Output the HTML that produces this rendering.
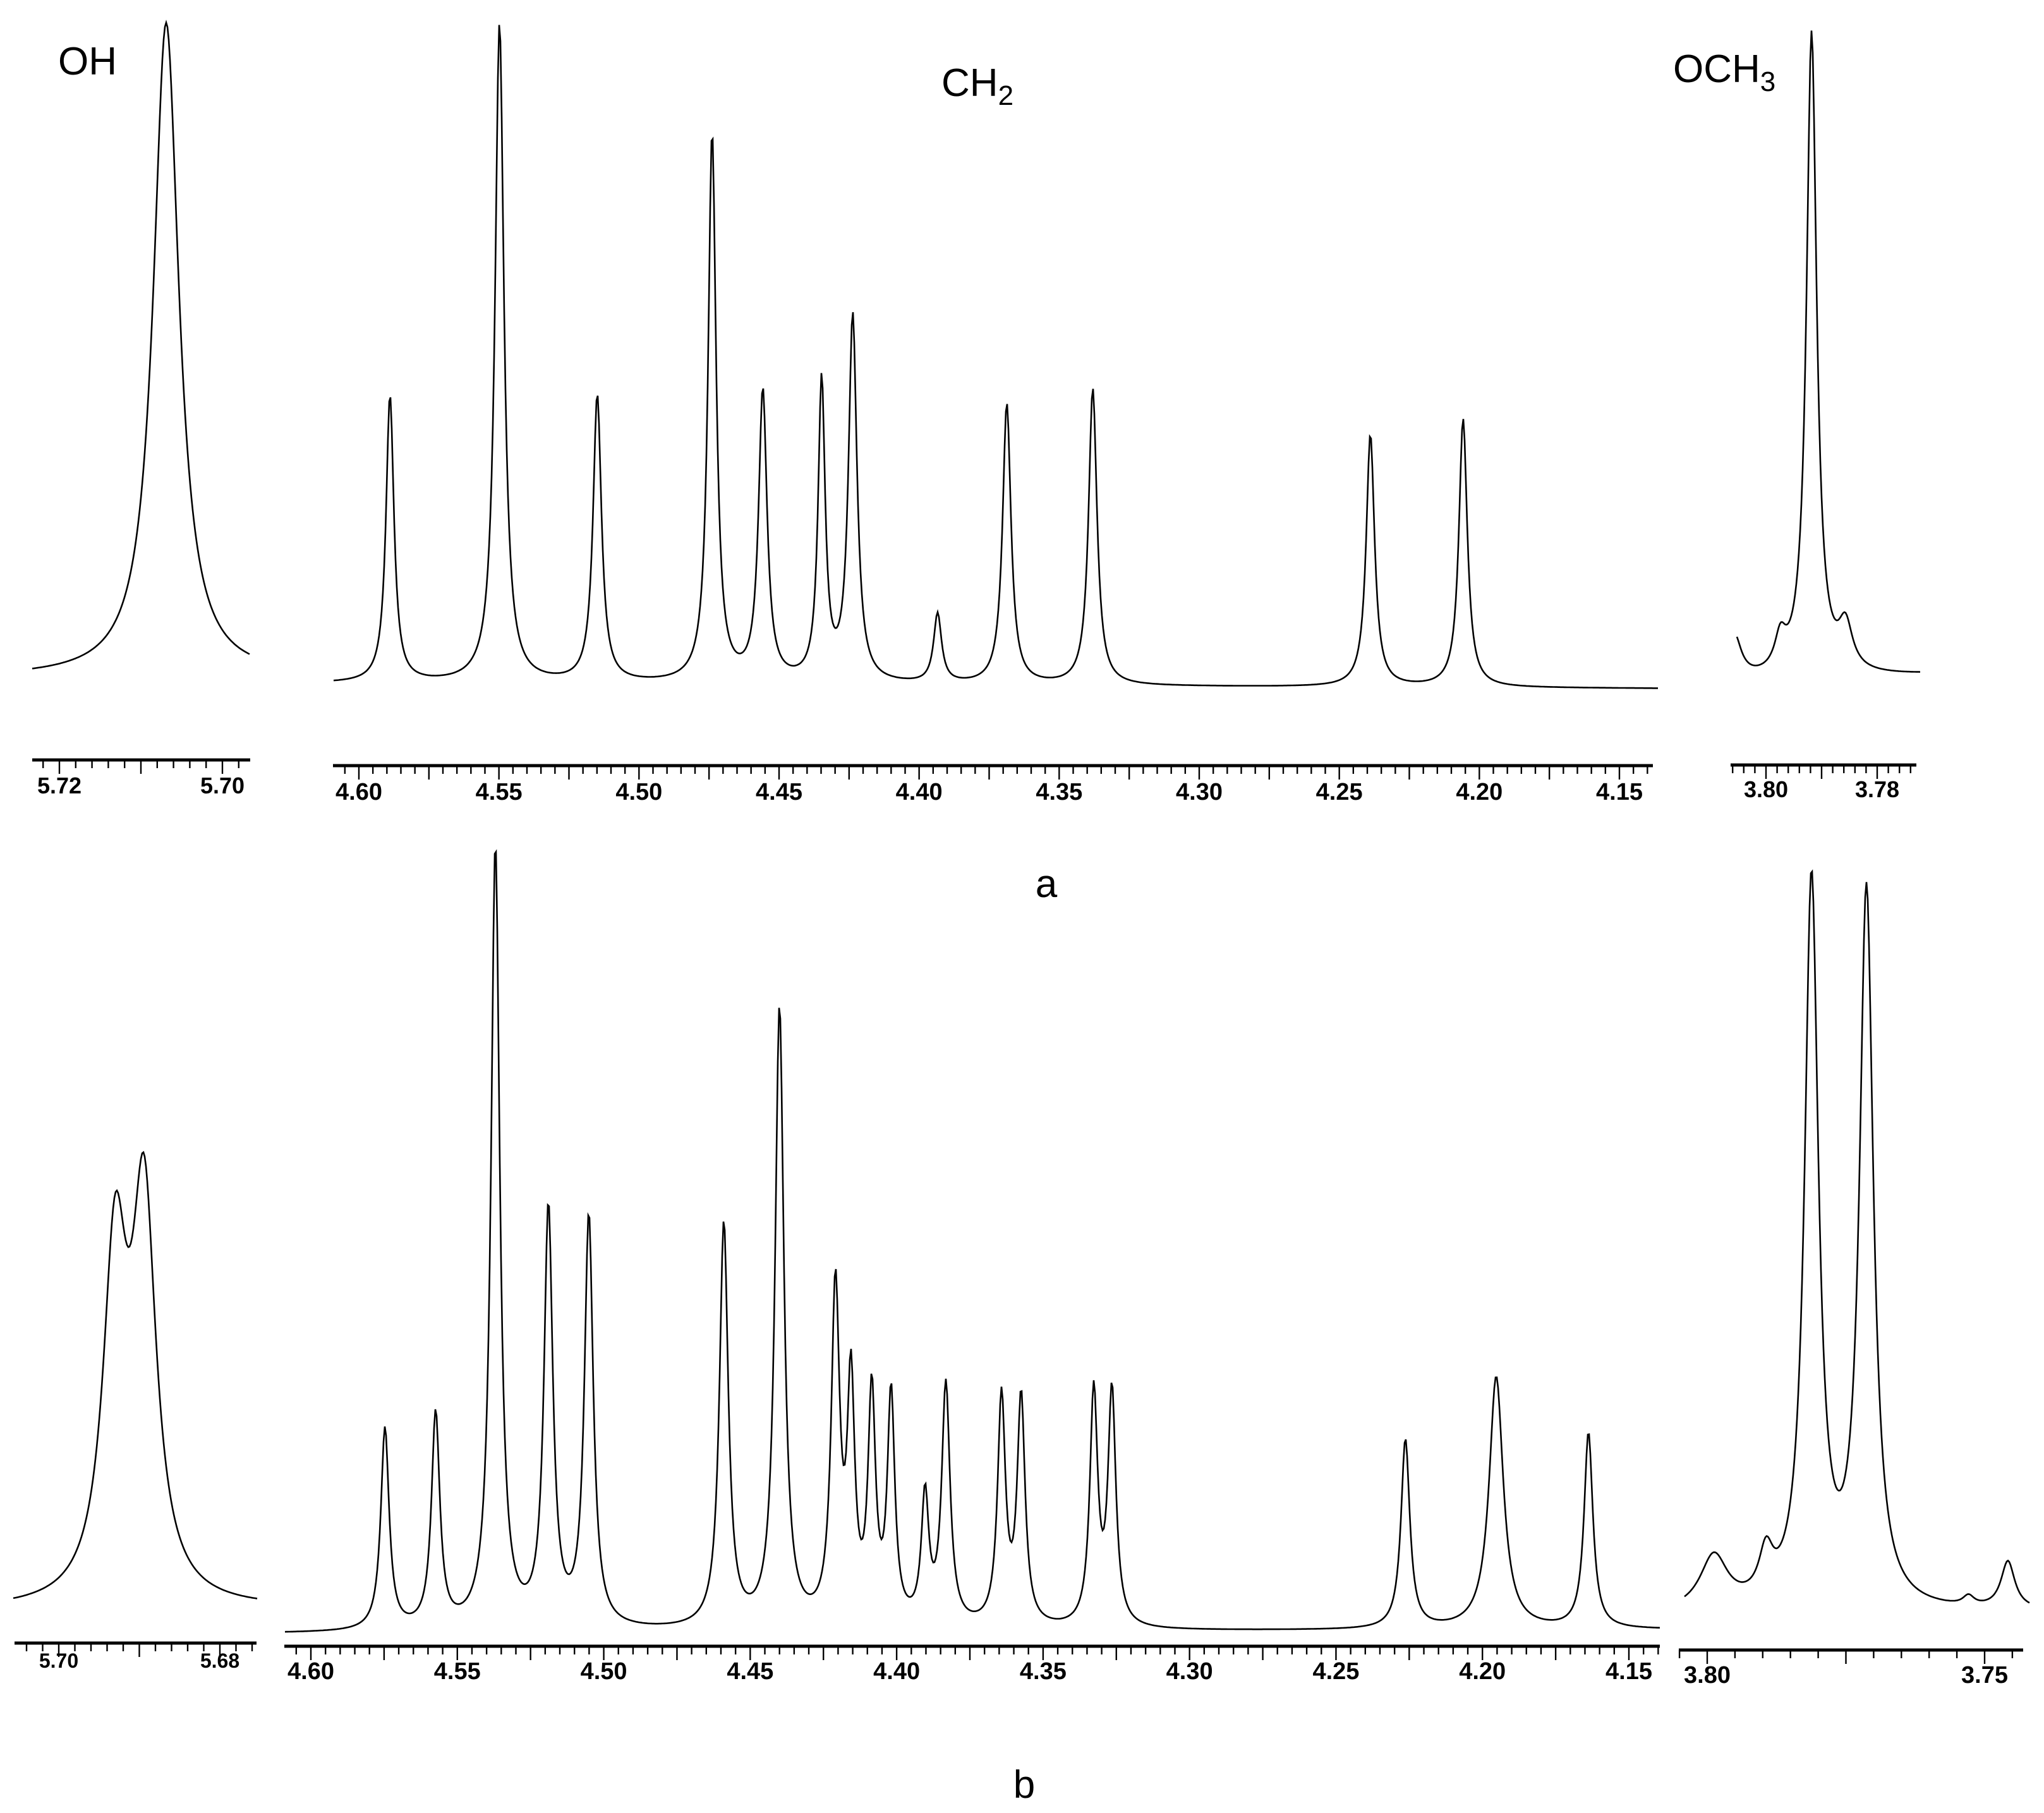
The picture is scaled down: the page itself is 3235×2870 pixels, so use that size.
<!DOCTYPE html>
<html><head><meta charset="utf-8"><style>
html,body{margin:0;padding:0;background:#fff}
svg{display:block}
.lbl{font-family:"Liberation Sans",sans-serif;fill:#000}
.tk{font-family:"Liberation Sans Narrow","Liberation Sans",sans-serif;font-weight:bold;fill:#000}
</style></head><body>
<svg id="chart" width="3235" height="2870" viewBox="0 0 3235 2870" xmlns="http://www.w3.org/2000/svg">
<text class="lbl" x="92" y="118" font-size="62">OH</text>
<text class="lbl" x="1490" y="152" font-size="62">CH<tspan font-size="44" dy="14">2</tspan></text>
<text class="lbl" x="2648" y="130" font-size="62">OCH<tspan font-size="44" dy="14">3</tspan></text>
<text class="lbl" x="1656" y="1420" font-size="62" text-anchor="middle">a</text>
<text class="lbl" x="1621" y="2846" font-size="62" text-anchor="middle">b</text>
</svg>
<script>
// ---- data (shift ppm, intensity, half-width ppm) ----
const topOhShifts=[5.7069];
const topOhIntensity=[1035];
const topOhWidths=[0.0019];
const topCh2Shifts=[4.5889,4.5498,4.5149,4.4739,4.4558,4.4348,4.4237,4.3934,4.3687,4.3380,4.2389,4.2058];
const topCh2Intensity=[455,1045,455,870,460,475,580,110,445,470,400,425];
const topCh2Widths=[0.0017,0.0019,0.0018,0.0017,0.0018,0.0015,0.0018,0.0017,0.0018,0.0018,0.0018,0.0018];
const topOch3Shifts=[3.8057,3.7974,3.7918,3.7857];
const topOch3Intensity=[70,50,1020,70];
const topOch3Widths=[0.0015,0.0012,0.0011,0.0015];
const botOhShifts=[5.6930,5.6894];
const botOhIntensity=[535,613];
const botOhWidths=[0.0018,0.0018];
const botCh2Shifts=[4.5747,4.5574,4.5370,4.5189,4.5051,4.4590,4.4400,4.4209,4.4156,4.4085,4.4019,4.3903,4.3832,4.3642,4.3575,4.3327,4.3265,4.2263,4.1953,4.1638];
const botCh2Intensity=[320,340,1240,660,650,640,980,530,370,360,360,200,380,360,360,370,370,300,400,310];
const botCh2Widths=[0.0017,0.0017,0.0018,0.0018,0.0018,0.0018,0.0018,0.0017,0.0015,0.0015,0.0015,0.0015,0.0017,0.0016,0.0016,0.0016,0.0016,0.0018,0.0029,0.0018];
const botOch3Shifts=[3.7988,3.7894,3.7812,3.7713,3.7529,3.7458];
const botOch3Intensity=[85,70,1150,1130,15,75];
const botOch3Widths=[0.0030,0.0015,0.0015,0.0015,0.0012,0.0015];
// ---- tick labels ----
const topOhTicks=["5.72","5.70"];
const topCh2Ticks=["4.60","4.55","4.50","4.45","4.40","4.35","4.30","4.25","4.20","4.15"];
const topOch3Ticks=["3.80","3.78"];
const botOhTicks=["5.70","5.68"];
const botCh2Ticks=["4.60","4.55","4.50","4.45","4.40","4.35","4.30","4.25","4.20","4.15"];
const botOch3Ticks=["3.80","3.75"];

const NS="http://www.w3.org/2000/svg";
const svg=document.getElementById('chart');
function mk(tag,attrs){const e=document.createElementNS(NS,tag);for(const k in attrs)e.setAttribute(k,attrs[k]);svg.appendChild(e);return e;}

function panel(p){
  const xs=v=>p.xA+(p.pA-v)/(p.pA-p.pB)*(p.xB-p.xA);
  const inv=x=>p.pA-(x-p.xA)/(p.xB-p.xA)*(p.pA-p.pB);
  let d="";
  for(let x=p.cx0;x<=p.cx1;x+=2){
    const v=inv(x);let s=0;
    for(let i=0;i<p.sh.length;i++){const r=(v-p.sh[i])/p.w[i];s+=p.h[i]/(1+r*r);}
    const b=p.base+(p.baseR-p.base)*(x-p.cx0)/(p.cx1-p.cx0);
    d+=(d?"L":"M")+x+","+(b-s).toFixed(1);
  }
  const path=mk('path',{d:d,fill:'none',stroke:'#000','stroke-width':2.6});
  
  
  const ax=mk('line',{x1:p.ax0,x2:p.ax1,y1:p.ay,y2:p.ay,stroke:'#000','stroke-width':5});
  
  
  const pmax=inv(p.ax0),pmin=inv(p.ax1);
  const n0=Math.ceil(pmin/p.step-1e-6),n1=Math.floor(pmax/p.step+1e-6);
  for(let n=n0;n<=n1;n++){
    const v=n*p.step;const x=xs(v);
    const lng=Math.abs(v/p.lstep-Math.round(v/p.lstep))<1e-4;
    const t=mk('line',{x1:x,x2:x,y1:p.ay,y2:p.ay+(lng?22:13),stroke:'#000','stroke-width':2.4});
    
    
  }
  p.labels.forEach(l=>{
    const t=mk('text',{x:xs(parseFloat(l)),y:p.ly,'text-anchor':'middle','font-size':p.fs,class:'tk'});
    t.textContent=l;
    
    
  });
}
panel({name:'top-oh',sh:topOhShifts,h:topOhIntensity,w:topOhWidths,pA:5.72,pB:5.70,xA:94,xB:352,cx0:51,cx1:396,base:1072,baseR:1070,ax0:51,ax1:396,ay:1203,step:0.002,lstep:0.01,labels:topOhTicks,ly:1256,fs:36});
panel({name:'top-ch2',sh:topCh2Shifts,h:topCh2Intensity,w:topCh2Widths,pA:4.60,pB:4.15,xA:568,xB:2563,cx0:528,cx1:2625,base:1082,baseR:1090,ax0:527,ax1:2616,ay:1212,step:0.005,lstep:0.025,labels:topCh2Ticks,ly:1266,fs:38});
panel({name:'top-och3',sh:topOch3Shifts,h:topOch3Intensity,w:topOch3Widths,pA:3.80,pB:3.78,xA:2795,xB:2971,cx0:2749,cx1:3039,base:1080,baseR:1068,ax0:2739,ax1:3033,ay:1211,step:0.002,lstep:0.01,labels:topOch3Ticks,ly:1262,fs:36});
panel({name:'bottom-oh',sh:botOhShifts,h:botOhIntensity,w:botOhWidths,pA:5.70,pB:5.68,xA:93,xB:348,cx0:21,cx1:408,base:2548,baseR:2546,ax0:23,ax1:406,ay:2601,step:0.002,lstep:0.01,labels:botOhTicks,ly:2640,fs:32});
panel({name:'bottom-ch2',sh:botCh2Shifts,h:botCh2Intensity,w:botCh2Widths,pA:4.60,pB:4.15,xA:492,xB:2578,cx0:451,cx1:2627,base:2586,baseR:2580,ax0:450,ax1:2627,ay:2606,step:0.005,lstep:0.025,labels:botCh2Ticks,ly:2658,fs:38});
panel({name:'bottom-och3',sh:botOch3Shifts,h:botOch3Intensity,w:botOch3Widths,pA:3.80,pB:3.75,xA:2702,xB:3141,cx0:2666,cx1:3213,base:2556,baseR:2552,ax0:2657,ax1:3202,ay:2612,step:0.005,lstep:0.025,labels:botOch3Ticks,ly:2664,fs:38});
</script>
</body></html>
